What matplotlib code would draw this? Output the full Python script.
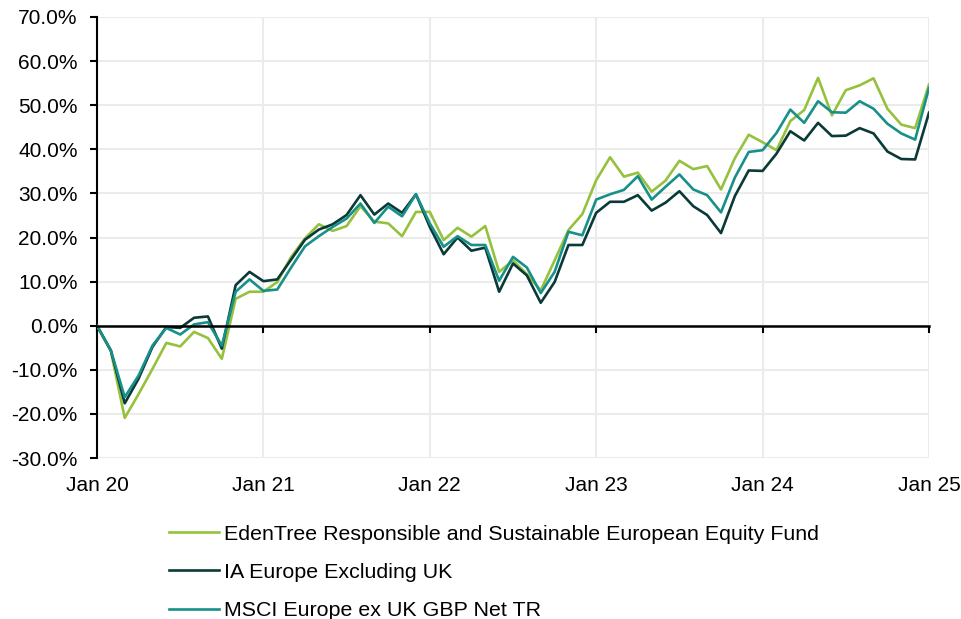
import numpy as np
import matplotlib.pyplot as plt
from matplotlib.ticker import FuncFormatter

plt.rcParams['font.family'] = ['Liberation Sans', 'DejaVu Sans']

# 月次累積リターン (%), Jan 20 - Jan 25
edentree = [0, -5.8, -20.9, -15.5, -9.8, -3.9, -4.7, -1.4, -2.8, -7.5,
            6.1, 7.7, 7.7, 9.9, 15.6, 19.8, 23.0, 21.5, 22.6, 27.1,
            23.6, 23.2, 20.3, 25.8, 25.8, 19.4, 22.2, 20.2, 22.6, 12.2,
            14.8, 11.7, 8.0, 14.8, 21.7, 25.3, 33.0, 38.2, 33.8, 34.7,
            30.4, 32.9, 37.4, 35.5, 36.2, 30.9, 38.0, 43.3, 41.6, 39.8,
            46.4, 48.9, 56.2, 47.7, 53.4, 54.5, 56.1, 49.2, 45.6, 44.8,
            54.7]
ia_europe = [0, -5.6, -17.6, -12.0, -4.8, -0.3, -0.5, 1.8, 2.1, -5.2,
             9.2, 12.2, 10.1, 10.5, 15.0, 19.5, 21.8, 23.0, 25.1, 29.6,
             25.2, 27.7, 25.6, 29.8, 22.4, 16.2, 20.0, 17.0, 17.7, 7.7,
             14.1, 11.4, 5.2, 9.9, 18.3, 18.3, 25.6, 28.1, 28.1, 29.6,
             26.1, 27.9, 30.5, 27.1, 25.1, 21.0, 29.4, 35.2, 35.1, 39.0,
             44.1, 42.0, 46.0, 43.0, 43.1, 44.8, 43.6, 39.5, 37.8, 37.7,
             48.3]
msci = [0, -5.6, -16.2, -11.3, -4.5, -0.5, -2.0, 0.3, 0.8, -4.5,
        7.7, 10.5, 7.9, 8.2, 13.2, 18.0, 20.3, 22.4, 24.3, 27.7,
        23.3, 27.0, 24.8, 29.8, 23.2, 17.9, 20.3, 18.3, 18.3, 10.2,
        15.6, 13.2, 7.4, 12.2, 21.3, 20.5, 28.6, 29.8, 30.8, 33.9,
        28.6, 31.5, 34.3, 30.9, 29.6, 25.7, 33.6, 39.4, 39.8, 43.7,
        49.0, 46.0, 50.9, 48.4, 48.3, 50.9, 49.2, 45.8, 43.6, 42.2,
        53.9]
tick_labels = ['Jan 20', 'Jan 21', 'Jan 22', 'Jan 23', 'Jan 24', 'Jan 25']
names = ['EdenTree Responsible and Sustainable European Equity Fund',
         'IA Europe Excluding UK',
         'MSCI Europe ex UK GBP Net TR']
colors = ['#95C13D', '#0A3A37', '#17908A']

months = np.arange(len(edentree))
jan_ticks = np.arange(0, 61, 12)

fig = plt.figure(figsize=(9.62, 6.19), dpi=100)
ax = fig.add_axes([97/962, 1-458/619, 832/962, 441/619])

for vals, name, c in zip([edentree, ia_europe, msci], names, colors):
    ax.plot(months, vals, color=c, linewidth=1.9, label=name, zorder=3)

ax.set_xlim(0, 60)
ax.set_ylim(-30, 70)
ax.set_yticks(np.arange(-30, 71, 10))
ax.yaxis.set_major_formatter(FuncFormatter(lambda v, p: '%.1f%%' % v))
ax.set_xticks(jan_ticks)

ax.grid(True, color='#EBEBEB', linewidth=1.5, zorder=0)
ax.set_axisbelow(True)
for s in ['top', 'right']:
    ax.spines[s].set_visible(False)
ax.spines['left'].set_linewidth(1.5)
# 横軸はゼロの位置に
ax.spines['bottom'].set_position(('data', 0))
ax.spines['bottom'].set_linewidth(1.8)
ax.spines['bottom'].set_zorder(4)
ax.tick_params(axis='y', length=5, width=1.5, pad=9, labelsize=15)
ax.tick_params(axis='x', length=5, width=1.5, labelbottom=False)

# ラベルは下端に
lab = ax.secondary_xaxis(0.0)
lab.set_xticks(jan_ticks)
lab.set_xticklabels(tick_labels)
lab.spines['bottom'].set_visible(False)
lab.tick_params(axis='x', length=0, pad=13, labelsize=15)

fig.legend(loc='upper left', bbox_to_anchor=(160/962, 1-516/619), frameon=False,
           fontsize=15.4, handlelength=2.35, handletextpad=0.22, labelspacing=0.9,
           borderaxespad=0)

plt.savefig('out.png', dpi=100)
